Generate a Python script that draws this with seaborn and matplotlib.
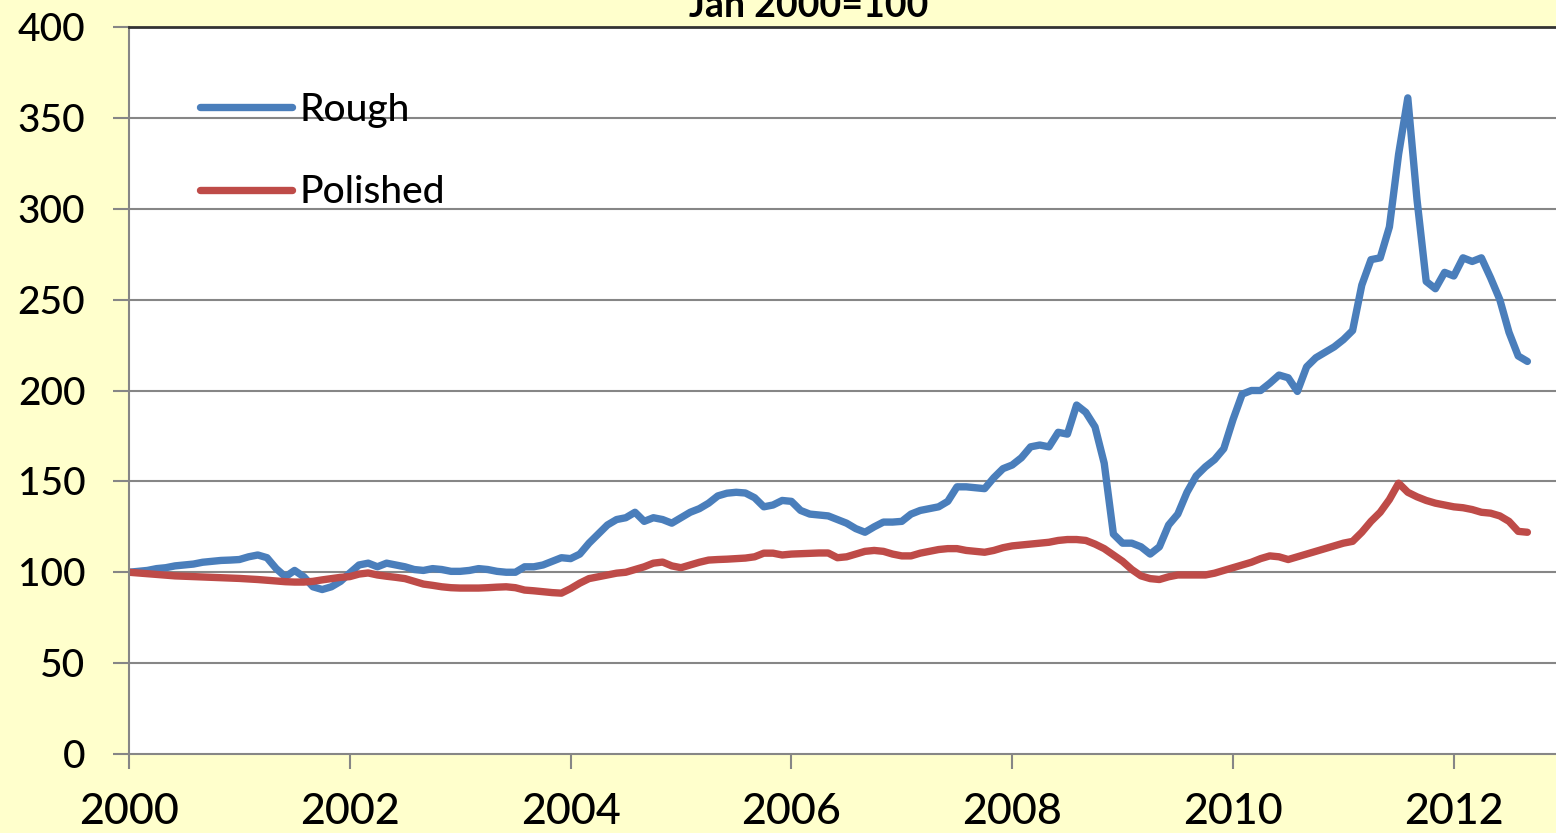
import numpy as np
import pandas as pd
import seaborn as sns
import matplotlib.pyplot as plt
from matplotlib.lines import Line2D

# Monthly diamond price indices, Jan 2000 = 100 (Jan 2000 .. Sep 2012)
rough = [
    100, 100.5, 101, 102, 102.5, 103.5, 104, 104.5, 105.5, 106, 106.5, 106.7,      # 2000
    107, 108.5, 109.5, 108, 102, 97.5, 101, 97.5, 92, 90.5, 92, 95,                 # 2001
    99.6, 104, 105, 103, 105, 104, 103, 101.5, 101, 102, 101.5, 100.5,              # 2002
    100.5, 101, 102, 101.5, 100.5, 100, 100, 103, 103, 104, 106, 108,               # 2003
    107.5, 110, 116, 121, 126, 129, 130, 133, 128, 130, 129, 127,                   # 2004
    130, 133, 135, 138, 142, 143.5, 144, 143.6, 141, 136, 137, 139.5,               # 2005
    139, 134, 132, 131.5, 131, 129, 127, 124, 122, 125, 127.6, 127.6,               # 2006
    128, 132, 134, 135, 136, 139, 147, 147, 146.5, 146, 152, 157,                   # 2007
    159, 163, 169, 170, 169, 177, 176, 192, 188, 180, 160, 121,                     # 2008
    116, 116, 114, 110, 114, 126, 132, 144, 153, 158, 162, 168,                     # 2009
    184, 198, 200, 200, 204, 208.5, 207, 199.5, 213, 218, 221, 224,                 # 2010
    228, 233, 258, 272, 273, 290, 330, 361, 305, 260, 256, 265,                     # 2011
    263, 273, 271, 273, 262, 250, 232, 219, 216,                                    # 2012
]
polished = [
    100, 99.6, 99.2, 98.8, 98.4, 98, 97.8, 97.6, 97.4, 97.2, 97, 96.8,              # 2000
    96.6, 96.3, 96, 95.6, 95.2, 94.8, 94.6, 94.6, 95, 95.8, 96.5, 97.2,             # 2001
    97.6, 99, 99.6, 98.5, 97.8, 97.2, 96.5, 95, 93.5, 92.8, 92, 91.5,               # 2002
    91.3, 91.3, 91.3, 91.5, 91.8, 92, 91.5, 90.2, 89.8, 89.3, 88.8, 88.5,           # 2003
    91, 94, 96.5, 97.5, 98.5, 99.5, 100, 101.5, 103, 105, 105.6, 103.5,             # 2004
    102.5, 104, 105.5, 106.7, 107, 107.2, 107.5, 107.8, 108.5, 110.5, 110.5, 109.5, # 2005
    110, 110.2, 110.4, 110.6, 110.6, 108, 108.5, 110, 111.5, 112, 111.5, 110,       # 2006
    109, 109, 110.5, 111.5, 112.5, 113, 113, 112, 111.5, 111, 112, 113.5,           # 2007
    114.5, 115, 115.5, 116, 116.5, 117.5, 118, 118, 117.5, 115.5, 113, 109.5,       # 2008
    106, 101.5, 98, 96.5, 96, 97.5, 98.5, 98.5, 98.5, 98.5, 99.5, 101,              # 2009
    102.5, 104, 105.5, 107.5, 109, 108.5, 107, 108.5, 110, 111.5, 113, 114.5,       # 2010
    116, 117, 122, 128, 133, 140, 149, 144, 141.5, 139.5, 138, 137,                 # 2011
    136, 135.5, 134.5, 133, 132.5, 131, 128, 122.5, 122,                            # 2012
]
series_names = ["Rough", "Polished"]
series_colors = ["#4A7EBB", "#BE4B48"]
y_ticks = [0, 50, 100, 150, 200, 250, 300, 350, 400]
x_ticks = [2000, 2002, 2004, 2006, 2008, 2010, 2012]
title = "Jan 2000=100"

dates = pd.date_range("2000-01-01", periods=len(rough), freq="MS")
year_frac = dates.year + (dates.month - 1) / 12.0
df = pd.concat([
    pd.DataFrame({"year": year_frac, "index": rough, "series": "Rough"}),
    pd.DataFrame({"year": year_frac, "index": polished, "series": "Polished"}),
], ignore_index=True)

sns.set_theme(style="white")
plt.rcParams["font.family"] = ["Lato", "DejaVu Sans"]
plt.rcParams["font.weight"] = "medium"
plt.rcParams["text.color"] = "black"

W, H = 1556, 833
bg = "#FFFFCC"
fig = plt.figure(figsize=(W / 100, H / 100), dpi=100, facecolor=bg)
ax = fig.add_axes([129 / W, 1 - 754 / H, (W - 129) / W, (754 - 27) / H])
ax.set_facecolor("white")

sns.lineplot(data=df, x="year", y="index", hue="series", hue_order=series_names,
             palette=series_colors, linewidth=5.3, estimator=None, sort=False,
             legend=False, ax=ax, solid_capstyle="round", solid_joinstyle="round")

ax.set_xlim(2000, 2000 + (W - 129) / 110.4)
ax.set_ylim(0, 400)
ax.set_xticks(x_ticks)
ax.set_xticklabels([str(t) for t in x_ticks])
ax.set_yticks(y_ticks)
ax.set_yticklabels([str(t) for t in y_ticks])
ax.set_xlabel("")
ax.set_ylabel("")

grid_c = "#868686"
for v in y_ticks[1:-1]:
    ax.axhline(v, color=grid_c, linewidth=1.5, zorder=0.5)

for side in ["left", "bottom"]:
    ax.spines[side].set_color(grid_c)
    ax.spines[side].set_linewidth(1.5)
ax.spines["right"].set_visible(False)
ax.spines["top"].set_color("#333333")
ax.spines["top"].set_linewidth(2)

ax.tick_params(axis="y", which="major", direction="out", length=11.5, width=1.5,
               color=grid_c, pad=20, labelsize=28, labelcolor="black", left=True)
ax.tick_params(axis="x", which="major", direction="out", length=11, width=1.5,
               color=grid_c, pad=17, labelsize=31, labelcolor="black", bottom=True)

handles = [Line2D([], [], color=c, linewidth=5.3, solid_capstyle="round") for c in series_colors]
leg = ax.legend(handles, series_names, loc="upper left", bbox_to_anchor=(200 / W, 1 - 93 / H),
                bbox_transform=fig.transFigure, frameon=False, fontsize=28,
                handlelength=2.37, handletextpad=0.2, labelspacing=1.22,
                borderpad=0, borderaxespad=0)
for t in leg.get_texts():
    t.set_color("black")

fig.text(0.52, 1 - 17 / H, title, ha="center", va="baseline",
         fontsize=27, fontweight="bold", color="black")

fig.savefig("out.png", dpi=100, facecolor=bg)
